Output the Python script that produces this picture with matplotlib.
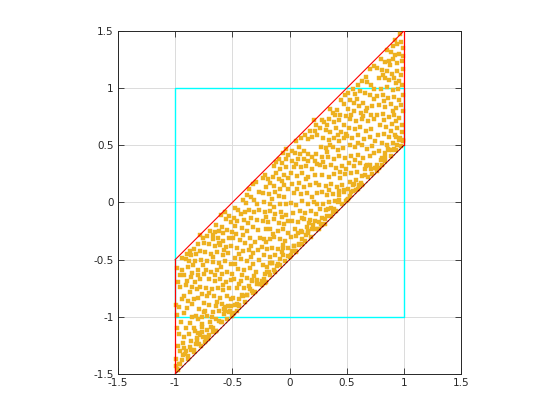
import matplotlib
matplotlib.use("Agg")
import matplotlib.pyplot as plt

# ---- data (points inside the parallelogram) ----
pts_x = [
# column x in [-1, -0.75]
-0.756,-0.750,-0.780,-0.803,-0.838,-0.873,-0.896,-0.861,-0.820,-0.780,-0.908,-0.879,-0.943,-0.984,-0.937,-0.890,-0.844,-0.803,-0.756,-0.774,
-0.826,-0.925,-0.896,-0.861,-0.826,-0.780,-0.750,-0.972,-0.955,-0.809,-0.873,-0.920,-0.762,-0.838,-0.995,-0.966,-0.896,-0.855,-0.791,-0.750,
-0.820,-0.762,-0.849,-0.949,-0.867,-0.797,-0.832,-0.768,-0.984,-0.966,-0.925,-0.879,-0.826,-0.780,-0.861,-0.972,-0.920,-0.873,-0.832,-0.931,
-0.884,-0.990,-0.943,-0.966,-0.978,-0.995,-0.908,-0.955,-0.849,-0.797,-0.908,-0.849,-0.780,-0.943,-0.884,-0.803,-0.925,-0.984,-0.902,-0.809,
-0.931,-0.955,-0.750,-0.762,-0.815,
# column x in [-0.75, -0.5]
-0.566,-0.531,-0.596,-0.508,-0.642,-0.613,-0.584,-0.654,-0.695,-0.543,-0.502,-0.724,-0.671,-0.625,-0.578,-0.526,-0.706,-0.648,-0.607,-0.555,
-0.508,-0.736,-0.689,-0.631,-0.584,-0.537,-0.718,-0.666,-0.613,-0.561,-0.514,-0.730,-0.683,-0.636,-0.590,-0.543,-0.502,-0.706,-0.654,-0.607,
-0.555,-0.514,-0.730,-0.677,-0.625,-0.578,-0.526,-0.718,-0.660,-0.607,-0.549,-0.508,-0.701,-0.642,-0.590,-0.537,-0.736,-0.671,-0.613,-0.572,
-0.718,-0.642,-0.596,-0.695,-0.671,-0.724,-0.642,-0.730,-0.701,-0.741,-0.555,-0.671,-0.590,-0.619,-0.572,-0.671,-0.596,-0.654,-0.584,-0.701,
-0.636,-0.572,-0.677,-0.514,-0.531,
# column x in [-0.5, -0.25]
-0.321,-0.292,-0.356,-0.269,-0.333,-0.286,-0.380,-0.409,-0.473,-0.450,-0.426,-0.386,-0.351,-0.310,-0.263,-0.485,-0.456,-0.397,-0.362,-0.333,
-0.286,-0.473,-0.415,-0.374,-0.321,-0.275,-0.491,-0.432,-0.386,-0.345,-0.298,-0.257,-0.456,-0.403,-0.356,-0.316,-0.275,-0.479,-0.426,-0.374,
-0.316,-0.269,-0.450,-0.397,-0.345,-0.292,-0.485,-0.426,-0.368,-0.327,-0.286,-0.461,-0.397,-0.351,-0.491,-0.444,-0.409,-0.473,-0.438,-0.461,
-0.491,-0.467,-0.409,-0.333,-0.438,-0.339,-0.473,-0.415,-0.310,-0.368,-0.327,-0.444,-0.310,-0.368,
# column x in [-0.25, 0]
-0.027,-0.056,-0.091,-0.120,-0.067,-0.032,-0.009,-0.137,-0.079,-0.027,-0.213,-0.231,-0.143,-0.120,-0.091,-0.050,-0.015,-0.167,-0.132,-0.207,
-0.085,-0.050,-0.009,-0.231,-0.178,-0.126,-0.091,-0.044,-0.225,-0.172,-0.132,-0.085,-0.027,-0.213,-0.167,-0.126,-0.073,-0.032,-0.231,-0.190,
-0.132,-0.091,-0.050,-0.009,-0.207,-0.167,-0.102,-0.056,-0.015,-0.225,-0.172,-0.137,-0.085,-0.038,-0.237,-0.196,-0.149,-0.102,-0.062,-0.015,
-0.219,-0.172,-0.126,-0.079,-0.231,-0.196,-0.149,-0.108,-0.213,-0.178,-0.137,-0.225,-0.202,-0.237,-0.184,-0.067,-0.149,-0.202,-0.067,-0.143,
-0.202,-0.056,-0.172,
# column x in [0, 0.25]
0.213,0.230,0.178,0.219,0.137,0.242,0.102,0.061,0.160,0.195,0.026,0.049,0.090,0.131,0.166,0.195,0.236,0.219,0.160,0.020,
0.084,0.055,0.102,0.148,0.201,0.242,0.014,0.067,0.113,0.166,0.219,0.026,0.084,0.125,0.178,0.230,0.043,0.102,0.154,0.201,
0.242,0.014,0.061,0.113,0.160,0.213,0.032,0.090,0.137,0.189,0.236,0.020,0.073,0.125,0.172,0.219,0.049,0.102,0.154,0.195,
0.014,0.061,0.113,0.148,0.038,0.084,0.020,0.061,0.008,0.073,0.125,0.038,0.143,0.067,0.242,0.108,0.078,0.160,0.113,
# column x in [0.25, 0.5]
0.484,0.449,0.473,0.356,0.379,0.414,0.443,0.490,0.280,0.303,0.344,0.385,0.432,0.473,0.268,0.321,0.356,0.408,0.449,0.490,
0.297,0.344,0.391,0.437,0.473,0.274,0.315,0.332,0.379,0.426,0.467,0.286,0.338,0.385,0.432,0.484,0.268,0.309,0.362,0.408,
0.455,0.496,0.286,0.344,0.391,0.443,0.484,0.262,0.315,0.367,0.414,0.461,0.280,0.327,0.379,0.432,0.473,0.297,0.344,0.397,
0.268,0.321,0.367,0.286,0.332,0.274,0.309,0.262,0.402,0.327,0.420,0.356,0.297,0.443,0.344,0.426,0.379,
# column x in [0.5, 0.75]
0.700,0.735,0.665,0.630,0.601,0.682,0.717,0.741,0.554,0.513,0.572,0.618,0.659,0.706,0.531,0.566,0.607,0.647,0.682,0.723,
0.513,0.566,0.624,0.671,0.717,0.531,0.583,0.636,0.688,0.741,0.519,0.572,0.618,0.665,0.717,0.507,0.548,0.601,0.653,0.706,
0.747,0.525,0.577,0.630,0.677,0.723,0.542,0.595,0.647,0.700,0.519,0.566,0.618,0.671,0.712,0.542,0.589,0.636,0.525,0.583,
0.624,0.513,0.554,0.595,0.531,0.507,0.589,0.735,0.542,0.647,0.601,0.741,0.572,0.659,0.554,
# column x in [0.75, 1]
0.966,0.925,0.901,0.942,0.977,0.989,0.855,0.884,0.919,0.960,0.989,0.802,0.831,0.866,0.901,0.942,0.983,0.767,0.808,0.855,
0.896,0.936,0.971,0.995,0.779,0.831,0.866,0.913,0.954,0.983,0.796,0.855,0.901,0.948,0.767,0.814,0.861,0.913,0.960,0.989,
0.785,0.831,0.884,0.931,0.977,0.767,0.814,0.866,0.913,0.960,0.989,0.791,0.843,0.896,0.942,0.983,0.773,0.826,0.872,0.919,
0.966,0.808,0.855,0.901,0.942,0.779,0.831,0.866,0.796,0.837,0.767,0.808,0.761,0.878,0.820,0.931,0.826,0.907,0.826,0.931,
0.884,0.983,0.995,0.896,
]
pts_y = [
# column x in [-1, -0.75]
-0.311,-0.354,-0.287,-0.363,-0.404,-0.427,-0.451,-0.462,-0.451,-0.427,-0.492,-0.515,-0.486,-0.573,-0.588,-0.567,-0.550,-0.588,-0.550,-0.500,
-0.515,-0.632,-0.684,-0.655,-0.696,-0.667,-0.626,-0.696,-0.743,-0.754,-0.783,-0.821,-0.801,-0.842,-0.900,-0.912,-0.924,-0.888,-0.935,-0.880,
-0.996,-1.005,-1.005,-1.046,-1.058,-1.017,-1.099,-1.093,-1.099,-1.151,-1.175,-1.151,-1.122,-1.163,-1.215,-1.256,-1.274,-1.262,-1.291,-1.332,
-1.344,-1.373,-1.379,-1.414,-1.467,-1.426,-1.303,-0.632,-0.617,-0.632,-0.725,-0.737,-0.737,-0.848,-0.865,-0.836,-0.967,-0.988,-1.099,-1.186,
-1.230,-1.297,-0.959,-1.064,-1.239,
# column x in [-0.75, -0.5]
-0.086,-0.115,-0.109,-0.173,-0.197,-0.249,-0.267,-0.261,-0.249,-0.238,-0.261,-0.296,-0.319,-0.313,-0.334,-0.313,-0.363,-0.383,-0.372,-0.392,
-0.378,-0.436,-0.451,-0.436,-0.459,-0.442,-0.509,-0.518,-0.529,-0.512,-0.538,-0.588,-0.611,-0.594,-0.626,-0.605,-0.626,-0.670,-0.684,-0.670,
-0.693,-0.675,-0.751,-0.757,-0.745,-0.763,-0.745,-0.821,-0.821,-0.839,-0.815,-0.845,-0.897,-0.903,-0.891,-0.909,-0.947,-0.961,-0.950,-0.976,
-0.996,-1.020,-1.049,-1.049,-1.102,-1.113,-1.125,-1.189,-1.160,-1.224,-0.144,-0.284,-0.217,-0.354,-0.413,-0.480,-0.567,-0.635,-0.722,-0.792,
-0.868,-0.932,-1.005,-0.903,-0.961,
# column x in [-0.5, -0.25]
0.159,0.177,0.115,0.095,0.048,-0.016,-0.004,0.019,-0.051,-0.068,-0.098,-0.080,-0.063,-0.086,-0.068,-0.133,-0.162,-0.156,-0.179,-0.138,
-0.156,-0.209,-0.226,-0.249,-0.214,-0.244,-0.308,-0.331,-0.354,-0.308,-0.349,-0.308,-0.401,-0.425,-0.413,-0.442,-0.413,-0.489,-0.495,-0.512,
-0.535,-0.506,-0.582,-0.588,-0.570,-0.605,-0.670,-0.687,-0.658,-0.681,-0.711,-0.746,-0.751,-0.731,-0.833,-0.845,-0.821,-0.897,-0.909,-0.950,
-0.973,-0.279,-0.284,-0.384,-0.454,-0.477,-0.541,-0.635,-0.643,-0.810,-0.775,-0.716,0.019,0.066,
# column x in [-0.25, 0]
0.466,0.437,0.384,0.355,0.349,0.384,0.413,0.320,0.297,0.308,0.244,0.215,0.226,0.256,0.209,0.238,0.215,0.168,0.145,0.133,
0.121,0.151,0.121,0.086,0.075,0.092,0.057,0.045,0.005,-0.013,-0.042,-0.013,-0.013,-0.083,-0.077,-0.100,-0.083,-0.112,-0.159,-0.171,
-0.147,-0.176,-0.188,-0.159,-0.235,-0.229,-0.246,-0.235,-0.264,-0.316,-0.322,-0.299,-0.316,-0.334,-0.392,-0.404,-0.398,-0.410,-0.433,-0.398,
-0.462,-0.480,-0.457,-0.492,-0.544,-0.562,-0.527,-0.556,-0.626,-0.608,-0.591,-0.667,-0.696,-0.725,0.203,0.186,0.028,-0.130,-0.130,-0.276,
-0.346,-0.369,-0.527,
# column x in [0, 0.25]
0.722,0.682,0.629,0.629,0.594,0.588,0.565,0.536,0.553,0.571,0.454,0.431,0.425,0.454,0.425,0.401,0.425,0.366,0.366,0.366,
0.483,0.337,0.308,0.320,0.296,0.337,0.261,0.232,0.255,0.220,0.244,0.162,0.168,0.139,0.156,0.168,0.080,0.074,0.086,0.051,
0.086,-0.007,-0.019,0.010,-0.013,0.004,-0.089,-0.071,-0.095,-0.077,-0.101,-0.159,-0.171,-0.147,-0.182,-0.159,-0.235,-0.247,-0.217,-0.229,
-0.305,-0.293,-0.322,-0.282,-0.381,-0.369,-0.428,-0.433,-0.480,0.381,0.384,0.308,0.203,0.115,-0.013,-0.136,-0.264,-0.247,-0.363,
# column x in [0.25, 0.5]
0.941,0.898,0.860,0.819,0.784,0.807,0.766,0.760,0.720,0.702,0.731,0.702,0.720,0.679,0.650,0.632,0.615,0.655,0.620,0.603,
0.562,0.544,0.568,0.539,0.562,0.486,0.474,0.439,0.486,0.457,0.474,0.399,0.399,0.381,0.410,0.393,0.328,0.311,0.328,0.299,
0.323,0.293,0.241,0.223,0.247,0.218,0.247,0.153,0.147,0.159,0.136,0.153,0.089,0.066,0.077,0.066,0.089,-0.010,0.007,0.013,
-0.057,-0.069,-0.045,-0.133,-0.121,-0.185,-0.191,-0.232,0.761,0.679,0.591,0.504,0.358,0.270,0.107,0.007,-0.080,
# column x in [0.5, 0.75]
1.166,1.190,1.096,1.061,1.032,1.055,1.032,0.991,0.991,0.956,0.950,0.974,0.956,0.939,0.898,0.868,0.845,0.874,0.828,0.845,
0.816,0.798,0.781,0.804,0.763,0.728,0.711,0.728,0.711,0.734,0.653,0.641,0.664,0.623,0.647,0.582,0.565,0.588,0.553,0.571,
0.536,0.501,0.483,0.501,0.466,0.495,0.407,0.419,0.390,0.407,0.343,0.320,0.349,0.320,0.291,0.256,0.267,0.232,0.180,0.197,
0.174,0.116,0.098,0.121,0.057,0.022,0.909,0.909,0.769,0.758,0.518,0.437,0.372,0.291,0.151,
# column x in [0.75, 1]
1.470,1.417,1.365,1.382,1.405,1.347,1.330,1.312,1.289,1.300,1.277,1.254,1.230,1.236,1.251,1.219,1.236,1.178,1.160,1.154,
1.125,1.149,1.119,1.172,1.090,1.090,1.073,1.090,1.061,1.032,0.997,1.008,0.985,0.997,0.930,0.944,0.915,0.927,0.898,0.944,
0.857,0.839,0.863,0.828,0.851,0.763,0.775,0.746,0.763,0.740,0.798,0.682,0.664,0.687,0.652,0.682,0.594,0.600,0.576,0.594,
0.565,0.518,0.501,0.518,0.501,0.448,0.431,0.460,0.372,0.395,0.331,0.325,0.279,1.201,1.119,1.043,0.886,0.798,0.722,0.711,
0.629,0.617,0.536,0.460,
]

# points lying close to the lower diagonal edge
band_x = [
-0.955,-0.915,-0.890,-0.860,-0.835,-0.812,-0.790,-0.770,-0.755,-0.800,-0.765,-0.985,
-0.735,-0.715,-0.690,-0.665,-0.640,-0.615,-0.590,-0.565,-0.545,-0.520,-0.505,-0.560,
-0.485,-0.460,-0.440,-0.415,-0.390,-0.370,-0.345,-0.320,-0.300,-0.280,-0.260,-0.330,
-0.240,-0.215,-0.195,-0.170,-0.150,-0.125,-0.100,-0.080,-0.055,-0.035,-0.015,-0.060,
0.010,0.035,0.060,0.085,0.110,0.135,0.160,0.185,0.205,0.225,0.245,0.180,
0.260,0.285,0.310,0.335,0.360,0.385,0.410,0.435,0.455,0.475,0.495,0.430,
0.510,0.535,0.560,0.585,0.610,0.635,0.660,0.685,0.705,0.725,0.745,0.680,
0.760,0.785,0.810,0.835,0.860,0.885,0.910,0.935,0.955,0.975,0.993,0.930,
]
band_y = [
-1.415,-1.325,-1.370,-1.290,-1.305,-1.202,-1.240,-1.255,-1.175,-1.140,-1.135,-1.455,
-1.175,-1.195,-1.090,-1.130,-1.125,-1.035,-1.045,-0.945,-1.020,-0.950,-0.990,-0.910,
-0.965,-0.885,-0.900,-0.805,-0.870,-0.810,-0.755,-0.790,-0.785,-0.680,-0.715,-0.690,
-0.690,-0.700,-0.605,-0.635,-0.530,-0.605,-0.535,-0.550,-0.455,-0.515,-0.465,-0.400,
-0.460,-0.380,-0.420,-0.365,-0.260,-0.340,-0.270,-0.300,-0.195,-0.235,-0.235,-0.150,
-0.170,-0.195,-0.145,-0.055,-0.115,-0.055,-0.075,0.025,-0.010,0.105,0.015,0.100,
0.030,0.095,0.160,0.110,0.155,0.150,0.240,0.220,0.325,0.245,0.305,0.330,
0.305,0.300,0.390,0.365,0.470,0.405,0.470,0.460,0.545,0.490,0.543,0.570,
]

# square and parallelogram outlines
square_x = [-1, 1, 1, -1, -1]
square_y = [-1, -1, 1, 1, -1]
left_edge_x, left_edge_y = [-1, -1], [-1.5, -0.5]
right_edge_x, right_edge_y = [1, 1], [0.5, 1.5]
top_diag_x, top_diag_y = [-1, 1], [-0.5, 1.5]
bot_diag_x, bot_diag_y = [-1, 1], [-1.5, 0.5]
ticks = [-1.5, -1, -0.5, 0, 0.5, 1, 1.5]
tick_labels = ["-1.5", "-1", "-0.5", "0", "0.5", "1", "1.5"]

fig = plt.figure(figsize=(5.6, 4.2), dpi=100)
ax = fig.add_axes([118 / 560, 1 - 374 / 420, 343 / 560, 343 / 420])

ax.plot(square_x, square_y, color=(0, 1, 1), lw=1.0, zorder=2)
ax.plot(pts_x + band_x, pts_y + band_y, linestyle="none", marker="s", markersize=2.3,
        markerfacecolor="#EDB120", markeredgecolor="#EDB120", markeredgewidth=0.3, zorder=3)
ax.plot(bot_diag_x, bot_diag_y, color="black", lw=0.6, zorder=4)
ax.plot(bot_diag_x, bot_diag_y, color="red", lw=0.8, linestyle=(0, (1, 1)), zorder=5)
ax.plot(top_diag_x, top_diag_y, color="red", lw=0.8, zorder=5)
ax.plot(left_edge_x, left_edge_y, color="red", lw=0.9, zorder=6)
ax.plot(right_edge_x, right_edge_y, color="red", lw=0.9, zorder=6)

ax.set_xlim(-1.5, 1.5)
ax.set_ylim(-1.5, 1.5)
ax.set_xticks(ticks)
ax.set_xticklabels(tick_labels)
ax.set_yticks(ticks)
ax.set_yticklabels(tick_labels)
ax.grid(True, color=(0.86, 0.86, 0.86), lw=0.7)
ax.set_axisbelow(True)
ax.tick_params(direction="in", top=True, right=True, length=4, width=0.6,
               labelsize=7.5, labelcolor=(0.15, 0.15, 0.15), color=(0.15, 0.15, 0.15), pad=3)
for s in ax.spines.values():
    s.set_color((0.15, 0.15, 0.15))
    s.set_linewidth(0.7)

fig.savefig("out.png", dpi=100)
